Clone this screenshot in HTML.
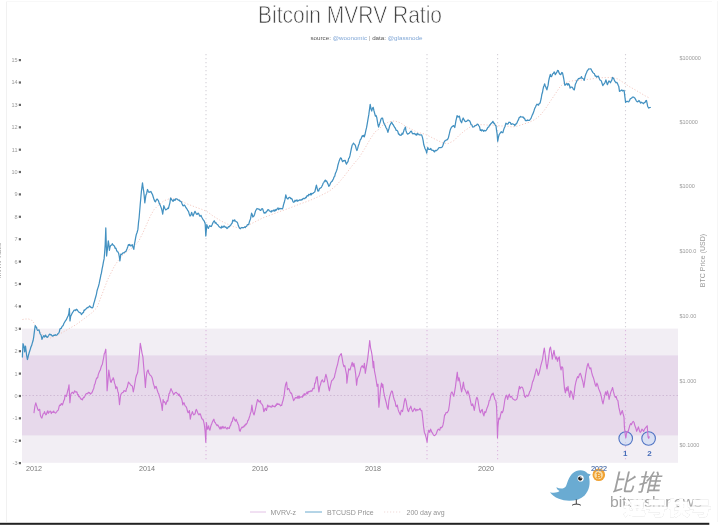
<!DOCTYPE html>
<html><head><meta charset="utf-8"><title>Bitcoin MVRV Ratio</title>
<style>
html,body{margin:0;padding:0;background:#fff;}
body{width:719px;height:526px;overflow:hidden;position:relative;font-family:"Liberation Sans","Noto Sans CJK SC",sans-serif;}
svg{position:absolute;left:0;top:0;display:block;filter:blur(0.35px);}
text{font-family:"Liberation Sans","Noto Sans CJK SC",sans-serif;}
.ax{font-size:5.5px;fill:#9a9a9a;}
.xl{font-size:7.2px;fill:#7a7a7a;}
.lg{font-size:7px;fill:#939393;}
</style></head><body>
<svg width="719" height="526" viewBox="0 0 719 526">
<rect x="0" y="0" width="719" height="526" fill="#fff"/>
<line x1="6.5" y1="1" x2="6.5" y2="522" stroke="#f1f1f1" stroke-width="1"/>
<line x1="717.5" y1="1" x2="717.5" y2="522" stroke="#f6f6f6" stroke-width="1"/>
<line x1="6" y1="1.5" x2="712" y2="1.5" stroke="#f8f8f8" stroke-width="1"/>
<rect x="22" y="328.6" width="656" height="134.2" fill="#f2eef4"/>
<rect x="22" y="355.4" width="656" height="80" fill="#e7d9eb"/>
<line x1="22" y1="395.5" x2="678" y2="395.5" stroke="#c9b3cf" stroke-width="0.8" stroke-dasharray="1.5 2"/>
<line x1="206" y1="54" x2="206" y2="328.5" stroke="#d4d0d8" stroke-width="1.1" stroke-dasharray="1.3 2.7"/>
<line x1="206" y1="330" x2="206" y2="462" stroke="#dcb9df" stroke-width="1.1" stroke-dasharray="1.3 2.7"/>
<line x1="427" y1="54" x2="427" y2="328.5" stroke="#d4d0d8" stroke-width="1.1" stroke-dasharray="1.3 2.7"/>
<line x1="427" y1="330" x2="427" y2="462" stroke="#dcb9df" stroke-width="1.1" stroke-dasharray="1.3 2.7"/>
<line x1="497.6" y1="54" x2="497.6" y2="328.5" stroke="#d4d0d8" stroke-width="1.1" stroke-dasharray="1.3 2.7"/>
<line x1="497.6" y1="330" x2="497.6" y2="462" stroke="#dcb9df" stroke-width="1.1" stroke-dasharray="1.3 2.7"/>
<line x1="625.5" y1="54" x2="625.5" y2="328.5" stroke="#d4d0d8" stroke-width="1.1" stroke-dasharray="1.3 2.7"/>
<line x1="625.5" y1="330" x2="625.5" y2="462" stroke="#dcb9df" stroke-width="1.1" stroke-dasharray="1.3 2.7"/>
<path d="M22.4,319.5 L25.7,319.0 L28.5,319.0 L31.4,319.9 L33.8,322.8 L36.1,326.6 L39.0,330.4 L42.8,335.1 L46.6,337.0 L50.4,338.0 L57.0,335.5 L62.7,332.3 L68.4,329.0 L76.0,324.7 L83.7,319.0 L91.3,313.3 L97.0,307.6 L107.5,280.0 L110.4,274.1 L114.2,266.5 L118.0,260.8 L122.7,255.1 L128.4,250.3 L134.1,246.5 L138.9,240.8 L142.7,233.2 L146.5,224.7 L150.3,216.1 L154.1,209.5 L157.9,205.7 L163.8,200.9 L171.4,198.0 L179.0,199.9 L186.6,203.7 L194.2,206.6 L201.8,209.4 L206.6,211.3 L213.2,216.1 L220.8,220.8 L226.5,223.7 L233.2,226.5 L239.8,228.4 L247.5,225.6 L255.1,221.8 L262.7,218.0 L270.3,215.1 L279.9,211.5 L289.8,208.0 L299.6,204.1 L309.5,200.6 L319.4,196.2 L329.3,191.2 L336.7,185.1 L344.1,176.4 L351.5,166.5 L358.9,157.9 L365.1,148.0 L370.0,139.4 L374.9,132.0 L378.6,129.4 L383.3,124.7 L389.0,121.8 L394.7,120.9 L400.4,122.8 L406.1,126.6 L411.8,129.4 L417.5,132.3 L425.1,134.2 L430.8,137.0 L436.5,139.9 L442.2,142.7 L447.9,143.7 L453.7,140.8 L459.4,135.1 L465.1,130.4 L470.8,126.6 L476.5,124.7 L484.1,124.7 L487.6,125.1 L495.2,125.1 L500.9,126.0 L506.6,126.0 L512.3,127.0 L518.0,126.0 L523.7,124.1 L529.4,122.2 L535.1,119.4 L539.9,115.6 L544.6,109.9 L548.4,104.2 L552.2,98.5 L556.0,92.8 L559.8,87.1 L563.7,83.3 L569.4,81.4 L575.1,80.4 L582.7,80.0 L591.4,79.0 L597.1,78.0 L604.7,77.6 L612.3,77.6 L618.0,79.0 L623.7,82.8 L629.4,86.6 L635.1,89.8 L640.8,93.2 L645.6,96.1 L649.4,98.0" fill="none" stroke="#f2c4bc" stroke-width="0.9" stroke-dasharray="1.2 1.8" stroke-linejoin="round"/>
<path d="M22.4,357.0 L23.0,343.7 L24.0,346.5 L24.7,351.9 L25.5,346.2 L26.05,350.51 L26.6,355.1 L27.4,359.5 L27.95,357.58 L28.5,355.1 L29.15,352.78 L29.8,350.7 L30.4,348.83 L31.0,346.79 L31.6,345.6 L32.35,342.93 L33.1,340.5 L33.65,337.46 L34.2,333.2 L35.2,325.6 L35.85,326.78 L36.5,327.5 L37.05,329.52 L37.6,330.4 L38.3,330.24 L39.0,329.8 L39.9,333.2 L40.5,334.37 L41.1,335.1 L42.0,339.3 L42.65,337.8 L43.3,336.1 L43.9,335.63 L44.5,337.0 L45.05,336.52 L45.6,335.1 L46.35,336.53 L47.1,337.4 L47.9,336.72 L48.7,335.5 L49.33,334.34 L49.97,334.07 L50.6,334.8 L51.17,334.74 L51.73,335.41 L52.3,336.1 L52.93,335.93 L53.57,335.41 L54.2,335.1 L54.83,335.39 L55.45,334.75 L56.08,335.27 L56.7,335.1 L57.33,334.68 L57.97,333.47 L58.6,333.2 L59.25,332.04 L59.9,329.0 L60.53,328.67 L61.17,328.39 L61.8,327.1 L62.45,326.01 L63.1,325.6 L63.85,323.49 L64.6,322.2 L65.4,320.86 L66.2,319.9 L66.85,318.44 L67.5,317.1 L68.15,315.8 L68.8,313.8 L69.4,308.5 L70.0,320.9 L70.7,316.1 L71.3,315.09 L71.9,313.8 L72.65,312.35 L73.4,311.4 L73.97,310.41 L74.53,310.18 L75.1,310.0 L75.73,310.5 L76.37,309.22 L77.0,309.5 L77.65,310.58 L78.3,311.4 L79.05,312.28 L79.8,312.7 L80.6,312.83 L81.4,314.6 L82.15,313.68 L82.9,312.7 L83.47,312.65 L84.03,310.06 L84.6,310.4 L85.23,309.59 L85.87,309.07 L86.5,308.5 L87.13,307.55 L87.77,307.77 L88.4,307.0 L89.03,306.83 L89.67,305.93 L90.3,306.6 L90.88,307.31 L91.45,307.47 L92.02,307.87 L92.6,307.6 L93.15,306.49 L93.7,303.8 L94.4,301.6 L95.1,299.0 L95.75,296.72 L96.4,294.3 L97.05,290.74 L97.7,288.6 L98.45,286.34 L99.2,283.4 L99.75,280.51 L100.3,278.05 L100.85,275.05 L101.4,273.2 L102.1,268.87 L102.8,265.6 L103.45,261.96 L104.1,258.9 L104.65,252.46 L105.2,244.6 L105.8,227.9 L106.6,256.0 L107.5,248.4 L108.3,240.8 L108.85,244.43 L109.4,250.3 L110.0,247.15 L110.6,245.6 L111.17,245.1 L111.73,245.13 L112.3,243.7 L113.05,244.97 L113.8,245.6 L114.45,245.96 L115.1,248.4 L115.9,248.16 L116.7,250.7 L117.33,251.73 L117.97,251.96 L118.6,253.2 L119.25,256.38 L119.9,260.8 L120.8,254.1 L121.43,254.34 L122.07,254.11 L122.7,253.2 L123.33,252.95 L123.97,252.67 L124.6,252.2 L125.23,251.71 L125.87,251.61 L126.5,250.0 L127.13,248.54 L127.77,246.69 L128.4,244.6 L129.03,245.23 L129.67,244.4 L130.3,245.6 L130.93,245.97 L131.57,245.46 L132.2,244.6 L133.0,247.29 L133.8,249.4 L134.45,244.01 L135.1,240.8 L135.75,237.15 L136.4,234.2 L137.15,232.26 L137.9,229.4 L138.5,222.7 L139.1,218.0 L140.2,204.7 L140.8,197.95 L141.4,191.4 L142.5,182.9 L143.1,187.71 L143.7,191.4 L144.25,196.38 L144.8,202.8 L145.9,195.2 L146.7,193.24 L147.5,189.5 L148.25,191.25 L149.0,192.4 L149.63,191.98 L150.27,191.91 L150.9,191.4 L151.65,193.21 L152.4,194.3 L153.15,196.72 L153.9,199.0 L154.65,201.08 L155.4,201.9 L156.2,200.09 L157.0,199.0 L157.75,199.72 L158.5,200.9 L159.25,203.37 L160.0,204.7 L160.75,206.61 L161.5,208.5 L162.1,210.87 L162.7,214.2 L163.25,210.47 L163.8,205.7 L164.9,208.5 L165.7,209.81 L166.5,209.5 L167.13,208.92 L167.77,208.07 L168.4,208.5 L169.15,205.58 L169.9,202.8 L170.6,198.0 L171.23,198.88 L171.87,199.77 L172.5,200.9 L173.13,201.34 L173.77,199.67 L174.4,199.9 L175.07,200.37 L175.75,198.75 L176.43,198.79 L177.1,199.0 L177.73,199.65 L178.37,200.22 L179.0,199.9 L179.57,200.85 L180.15,201.04 L180.73,201.4 L181.3,201.8 L182.05,203.78 L182.8,205.6 L183.43,205.78 L184.07,205.24 L184.7,205.2 L185.33,206.45 L185.97,207.71 L186.6,208.5 L187.23,209.43 L187.87,210.79 L188.5,211.3 L189.25,214.01 L190.0,216.1 L190.8,215.31 L191.6,212.3 L192.35,214.38 L193.1,216.1 L193.73,214.26 L194.37,212.7 L195.0,211.3 L195.75,212.74 L196.5,214.2 L197.13,214.37 L197.77,213.35 L198.4,213.2 L199.03,214.38 L199.67,216.14 L200.3,216.1 L200.93,215.32 L201.57,216.75 L202.2,218.0 L202.83,219.07 L203.47,220.09 L204.1,220.8 L205.2,223.7 L205.8,236.0 L206.8,224.6 L207.55,226.63 L208.3,228.4 L209.05,226.76 L209.8,225.6 L210.55,226.41 L211.3,226.5 L212.1,224.76 L212.9,222.7 L213.65,221.46 L214.4,220.8 L215.15,223.09 L215.9,222.7 L216.65,223.85 L217.4,224.6 L218.03,225.06 L218.67,226.08 L219.3,226.9 L219.93,227.18 L220.57,227.67 L221.2,228.1 L221.77,226.2 L222.35,227.03 L222.93,227.45 L223.5,226.5 L224.07,225.96 L224.65,226.66 L225.23,227.32 L225.8,226.9 L226.43,227.77 L227.07,228.52 L227.7,228.1 L228.33,226.63 L228.97,226.84 L229.6,226.5 L230.23,225.38 L230.87,224.98 L231.5,223.7 L232.13,223.23 L232.77,220.09 L233.4,220.5 L234.03,221.2 L234.67,219.9 L235.3,220.8 L236.05,221.68 L236.8,221.8 L237.55,222.88 L238.3,225.6 L239.05,227.1 L239.8,228.4 L240.43,228.76 L241.07,227.72 L241.7,227.5 L242.37,227.61 L243.03,227.94 L243.7,227.5 L244.25,227.33 L244.8,226.95 L245.35,227.59 L245.9,226.5 L246.53,226.44 L247.17,225.07 L247.8,224.6 L248.6,224.71 L249.4,221.8 L250.5,218.9 L251.6,213.2 L252.2,214.47 L252.8,217.0 L253.9,216.1 L254.65,214.2 L255.4,211.3 L256.2,209.75 L257.0,208.5 L257.63,208.74 L258.27,209.22 L258.9,209.0 L259.53,209.59 L260.17,210.28 L260.8,210.4 L261.43,209.09 L262.07,208.64 L262.7,209.0 L263.45,211.44 L264.2,213.2 L264.95,212.52 L265.7,212.9 L266.45,211.39 L267.2,211.0 L267.95,209.59 L268.7,209.8 L269.33,211.0 L269.97,211.21 L270.6,211.3 L271.18,212.04 L271.75,210.63 L272.32,211.08 L272.9,211.0 L273.46,210.12 L274.02,210.92 L274.59,211.12 L275.15,209.51 L275.71,210.61 L276.27,210.04 L276.84,209.15 L277.4,209.0 L278.02,207.83 L278.63,209.61 L279.25,208.7 L279.87,208.34 L280.48,208.8 L281.1,208.5 L281.67,208.56 L282.23,208.99 L282.8,208.0 L283.55,204.59 L284.3,202.3 L285.05,199.22 L285.8,194.9 L286.55,197.57 L287.3,198.6 L287.97,199.0 L288.63,197.7 L289.3,197.4 L289.9,197.29 L290.5,198.56 L291.1,198.36 L291.7,198.6 L292.37,199.9 L293.03,201.85 L293.7,202.3 L294.37,201.76 L295.03,200.24 L295.7,201.1 L296.3,200.76 L296.9,199.83 L297.5,201.18 L298.1,200.6 L298.73,200.6 L299.35,199.91 L299.98,200.07 L300.6,199.9 L301.23,200.03 L301.85,199.29 L302.48,199.65 L303.1,198.6 L303.73,198.27 L304.35,198.57 L304.98,198.52 L305.6,197.4 L306.23,197.72 L306.87,195.9 L307.5,195.7 L308.12,195.98 L308.75,194.27 L309.38,194.5 L310.0,194.9 L310.62,193.52 L311.25,194.89 L311.88,193.32 L312.5,193.7 L313.1,193.19 L313.7,192.59 L314.3,192.18 L314.9,191.7 L315.65,188.07 L316.4,185.1 L317.15,188.28 L317.9,191.2 L318.65,190.99 L319.4,188.8 L320.02,188.2 L320.65,187.84 L321.27,187.48 L321.9,186.3 L322.53,184.96 L323.17,183.14 L323.8,182.6 L324.55,181.04 L325.3,180.1 L325.97,181.52 L326.63,180.86 L327.3,182.6 L328.05,184.12 L328.8,186.3 L329.43,185.62 L330.07,184.27 L330.7,182.6 L331.37,181.77 L332.03,181.38 L332.7,180.1 L333.37,178.96 L334.03,176.98 L334.7,176.4 L335.37,173.47 L336.03,171.92 L336.7,170.2 L337.33,168.24 L337.97,164.96 L338.6,162.8 L339.27,160.67 L339.93,159.11 L340.6,157.9 L341.27,158.29 L341.93,160.3 L342.6,161.6 L343.27,160.55 L343.93,161.0 L344.6,160.4 L345.23,160.34 L345.87,163.05 L346.5,164.1 L347.25,162.5 L348.0,161.6 L348.67,158.47 L349.33,157.87 L350.0,155.4 L350.75,151.55 L351.5,148.0 L352.17,145.14 L352.83,144.25 L353.5,143.1 L354.13,144.09 L354.77,144.51 L355.4,145.6 L356.15,148.48 L356.9,150.5 L357.65,148.46 L358.4,145.6 L359.07,143.9 L359.73,141.65 L360.4,139.4 L361.03,138.9 L361.67,137.3 L362.3,135.7 L362.97,136.35 L363.63,135.35 L364.3,136.9 L365.05,134.29 L365.8,130.7 L366.55,127.72 L367.3,123.3 L368.05,118.84 L368.8,114.7 L369.5,109.24 L370.2,104.3 L370.95,108.72 L371.7,111.0 L372.45,108.18 L373.2,107.3 L373.95,110.66 L374.7,113.5 L375.37,116.07 L376.03,115.46 L376.7,117.2 L377.33,120.85 L377.97,124.77 L378.6,127.0 L379.2,124.93 L379.8,123.31 L380.4,121.5 L381.0,119.0 L381.75,118.0 L382.5,118.0 L383.1,120.35 L383.7,122.8 L384.45,124.36 L385.2,125.6 L385.95,127.5 L386.7,128.5 L387.3,130.38 L387.9,132.3 L388.45,130.29 L389.0,128.5 L389.6,126.04 L390.2,124.7 L390.95,123.25 L391.7,122.2 L392.45,123.94 L393.2,124.7 L393.95,126.16 L394.7,127.5 L395.45,128.48 L396.2,130.4 L397.0,130.39 L397.8,131.3 L398.55,134.22 L399.3,134.2 L400.05,135.28 L400.8,135.1 L401.43,135.15 L402.07,133.07 L402.7,134.2 L403.45,132.14 L404.2,129.4 L404.8,128.51 L405.4,127.1 L405.95,130.63 L406.5,132.3 L407.05,133.49 L407.6,134.2 L408.4,133.66 L409.2,133.2 L409.95,132.54 L410.7,131.3 L411.45,131.18 L412.2,133.2 L412.83,133.9 L413.47,133.65 L414.1,133.6 L414.73,133.41 L415.37,134.73 L416.0,134.2 L416.63,135.2 L417.27,133.43 L417.9,134.2 L418.53,134.03 L419.17,134.76 L419.8,134.8 L420.43,135.0 L421.07,134.78 L421.7,135.1 L422.45,137.41 L423.2,140.8 L423.8,144.82 L424.4,146.5 L424.95,148.52 L425.5,149.4 L426.1,150.64 L426.7,153.2 L427.25,149.61 L427.8,147.5 L428.55,149.39 L429.3,149.4 L430.05,149.44 L430.8,148.4 L431.43,150.03 L432.07,150.11 L432.7,150.3 L433.33,150.35 L433.97,151.51 L434.6,151.9 L435.23,150.31 L435.87,150.69 L436.5,150.7 L437.13,149.9 L437.77,149.45 L438.4,148.4 L439.03,147.7 L439.67,147.73 L440.3,147.5 L440.93,147.55 L441.57,147.31 L442.2,146.9 L443.0,145.15 L443.8,142.7 L444.9,140.8 L445.53,140.61 L446.17,140.02 L446.8,139.9 L447.55,139.38 L448.3,138.0 L448.9,135.63 L449.5,133.2 L450.05,130.65 L450.6,129.0 L451.35,127.46 L452.1,126.6 L452.9,126.1 L453.7,125.6 L454.25,126.49 L454.8,127.5 L455.9,120.9 L456.5,118.39 L457.1,115.7 L458.2,117.1 L458.8,116.6 L459.4,116.1 L459.95,118.6 L460.5,120.9 L461.05,121.78 L461.6,122.8 L462.4,119.71 L463.2,118.0 L463.95,119.68 L464.7,120.9 L465.33,121.65 L465.97,121.47 L466.6,121.4 L467.35,120.55 L468.1,119.9 L468.85,120.65 L469.6,120.9 L470.35,122.27 L471.1,124.7 L471.9,124.86 L472.7,127.1 L473.45,126.88 L474.2,126.6 L474.95,125.59 L475.7,125.6 L476.45,125.26 L477.2,124.1 L477.95,124.25 L478.7,125.6 L479.5,126.55 L480.3,130.4 L480.93,129.63 L481.57,130.87 L482.2,129.8 L482.95,130.34 L483.7,131.3 L484.37,130.38 L485.03,130.55 L485.7,130.8 L486.33,130.12 L486.97,129.14 L487.6,127.9 L488.23,127.06 L488.87,126.85 L489.5,125.1 L490.13,124.86 L490.77,123.82 L491.4,123.2 L492.15,122.58 L492.9,121.3 L493.65,123.16 L494.4,123.2 L495.2,125.13 L496.0,126.0 L496.55,130.41 L497.1,133.7 L497.7,141.3 L498.6,136.5 L499.2,134.5 L499.8,133.7 L500.55,132.62 L501.3,131.7 L502.05,132.6 L502.8,132.7 L503.55,130.14 L504.3,127.9 L505.1,126.14 L505.9,123.2 L506.65,123.98 L507.4,124.1 L508.15,123.65 L508.9,122.2 L509.65,122.28 L510.4,122.6 L511.03,124.4 L511.67,124.08 L512.3,123.8 L512.93,123.91 L513.57,124.32 L514.2,124.5 L514.83,125.79 L515.47,124.04 L516.1,124.1 L516.85,123.18 L517.6,121.3 L518.4,119.94 L519.2,117.5 L519.83,117.3 L520.47,116.46 L521.1,116.9 L521.73,117.0 L522.37,117.1 L523.0,116.9 L523.75,118.12 L524.5,118.1 L525.05,119.83 L525.6,120.7 L526.23,120.48 L526.87,120.7 L527.5,120.0 L528.13,120.4 L528.77,120.31 L529.4,120.3 L530.2,119.38 L531.0,118.4 L531.75,116.37 L532.5,114.6 L533.25,113.08 L534.0,110.8 L534.75,108.32 L535.5,107.0 L536.25,105.25 L537.0,104.2 L537.8,104.65 L538.6,105.1 L539.35,103.34 L540.1,103.2 L540.65,100.61 L541.2,98.5 L541.8,94.55 L542.4,92.8 L542.95,89.57 L543.5,87.1 L544.05,85.76 L544.6,83.8 L545.2,85.76 L545.8,87.1 L546.35,88.47 L546.9,89.9 L547.5,87.42 L548.1,85.2 L548.65,81.07 L549.2,78.5 L550.3,74.3 L550.9,76.46 L551.5,76.6 L552.05,75.48 L552.6,73.8 L553.35,73.45 L554.1,71.9 L554.7,72.81 L555.3,74.7 L556.05,73.45 L556.8,72.4 L557.55,70.45 L558.3,70.5 L558.9,72.58 L559.5,73.8 L560.25,74.56 L561.0,74.3 L561.75,72.51 L562.5,72.8 L563.1,75.62 L563.7,78.5 L564.8,85.2 L565.55,84.85 L566.3,83.8 L567.05,83.53 L567.8,85.2 L568.4,83.7 L569.0,84.2 L569.55,85.51 L570.1,88.0 L570.85,87.2 L571.6,87.1 L572.4,87.28 L573.2,89.0 L574.3,89.9 L574.85,87.07 L575.4,84.2 L576.2,82.44 L577.0,80.4 L577.75,79.8 L578.5,78.5 L579.25,78.69 L580.0,78.1 L580.75,78.18 L581.5,76.6 L582.1,78.19 L582.7,78.5 L583.45,78.73 L584.2,80.4 L585.3,75.7 L585.9,73.97 L586.5,72.8 L587.25,70.82 L588.0,70.0 L588.75,68.91 L589.5,69.0 L590.25,68.91 L591.0,68.9 L591.6,70.15 L592.2,71.4 L592.95,72.62 L593.7,73.3 L594.45,73.83 L595.2,76.1 L595.95,75.92 L596.7,77.1 L597.5,76.59 L598.3,76.1 L599.05,77.89 L599.8,79.9 L600.55,80.23 L601.3,80.9 L602.05,83.22 L602.8,85.6 L603.55,84.23 L604.3,83.7 L605.1,82.19 L605.9,79.9 L606.65,82.49 L607.4,84.7 L608.15,82.75 L608.9,80.9 L609.65,81.48 L610.4,82.8 L611.15,81.25 L611.9,79.9 L612.5,77.45 L613.1,78.0 L613.85,78.91 L614.6,80.9 L615.35,81.87 L616.1,82.8 L616.85,82.42 L617.6,83.7 L618.2,85.26 L618.8,86.6 L619.5,91.3 L620.3,90.93 L621.1,90.4 L621.85,89.94 L622.6,91.0 L623.35,90.56 L624.1,90.4 L624.9,97.0 L625.6,102.4 L626.35,101.63 L627.1,101.2 L627.9,101.75 L628.7,101.8 L629.45,100.69 L630.2,98.9 L630.95,98.43 L631.7,98.0 L632.45,97.03 L633.2,97.0 L634.0,97.42 L634.8,98.0 L635.55,99.36 L636.3,100.8 L637.05,101.7 L637.8,101.8 L638.35,101.31 L638.9,100.5 L639.7,101.4 L640.5,103.1 L641.25,102.16 L642.0,102.7 L642.75,102.99 L643.5,103.7 L644.25,102.64 L645.0,102.4 L645.75,100.84 L646.5,100.5 L647.1,103.44 L647.7,106.5 L648.8,108.1 L649.55,107.53 L650.3,107.5" fill="none" stroke="#4391c1" stroke-width="1.25" stroke-linejoin="round" stroke-linecap="round"/>
<circle cx="625.7" cy="438.5" r="6.8" fill="#c5d6f2" fill-opacity="0.55" stroke="#4f73c4" stroke-width="1.1"/>
<text x="625.3" y="455.6" text-anchor="middle" font-size="8" font-weight="bold" fill="#446bb8">1</text>
<circle cx="648.6" cy="438.5" r="6.8" fill="#c5d6f2" fill-opacity="0.55" stroke="#4f73c4" stroke-width="1.1"/>
<text x="649.6" y="455.6" text-anchor="middle" font-size="8" font-weight="bold" fill="#446bb8">2</text>
<path d="M34.0,412.7 L34.9,406.1 L35.8,402.8 L36.45,405.08 L37.1,407.2 L37.75,409.27 L38.4,410.5 L39.05,409.62 L39.7,409.4 L40.35,415.06 L41.0,417.0 L41.9,418.1 L42.55,415.69 L43.2,413.8 L43.85,413.58 L44.5,411.6 L45.15,413.35 L45.8,414.9 L46.45,414.34 L47.1,412.0 L47.75,410.75 L48.4,413.3 L49.0,411.97 L49.6,412.03 L50.2,411.1 L50.77,411.88 L51.33,413.57 L51.9,412.0 L52.5,411.96 L53.1,412.42 L53.7,411.1 L54.35,412.51 L55.0,412.7 L55.6,413.09 L56.2,412.37 L56.8,411.6 L57.37,410.74 L57.93,410.54 L58.5,409.4 L59.15,406.34 L59.8,405.0 L60.45,405.4 L61.1,403.9 L61.75,403.64 L62.4,405.0 L63.1,403.0 L63.8,400.6 L64.45,399.6 L65.1,395.2 L65.75,395.57 L66.4,396.3 L67.05,393.57 L67.7,390.8 L68.35,388.78 L69.0,384.9 L69.9,402.8 L70.8,394.1 L71.45,393.22 L72.1,392.3 L72.75,392.3 L73.4,393.6 L74.05,392.41 L74.7,390.8 L75.27,391.63 L75.83,392.1 L76.4,391.9 L77.0,392.15 L77.6,395.04 L78.2,394.5 L78.77,396.77 L79.33,396.38 L79.9,397.3 L80.6,398.61 L81.3,399.5 L81.87,398.79 L82.43,399.9 L83.0,398.4 L83.6,397.14 L84.2,397.54 L84.8,396.3 L85.37,395.02 L85.93,393.94 L86.5,393.6 L87.1,393.74 L87.7,393.8 L88.3,392.3 L88.87,392.73 L89.43,392.62 L90.0,393.6 L90.6,394.05 L91.2,393.16 L91.8,393.0 L92.45,391.6 L93.1,389.7 L93.75,388.52 L94.4,384.9 L95.05,383.81 L95.7,380.9 L96.35,378.88 L97.0,377.7 L97.65,377.88 L98.3,374.4 L98.95,372.75 L99.6,371.1 L100.25,370.08 L100.9,367.8 L101.6,365.63 L102.3,364.5 L102.95,361.21 L103.6,358.0 L104.25,353.85 L104.9,352.5 L105.8,349.2 L106.4,363.4 L107.1,390.8 L107.9,382.0 L108.8,370.0 L109.7,376.6 L110.6,382.0 L111.25,382.33 L111.9,379.8 L112.55,379.84 L113.2,377.7 L113.85,379.43 L114.5,383.1 L115.15,384.65 L115.8,388.6 L116.45,386.75 L117.1,387.5 L117.75,391.19 L118.4,393.0 L118.95,398.43 L119.5,404.6 L120.05,399.85 L120.6,395.2 L121.25,393.85 L121.9,393.0 L122.6,392.55 L123.3,392.3 L123.95,390.68 L124.6,390.8 L125.25,391.12 L125.9,391.4 L126.55,388.3 L127.2,387.5 L127.85,384.69 L128.5,382.0 L129.15,383.05 L129.8,383.6 L130.45,384.82 L131.1,385.3 L131.75,385.66 L132.4,386.4 L133.3,391.9 L134.2,387.5 L135.1,382.0 L135.75,378.03 L136.4,375.5 L137.05,373.98 L137.7,372.2 L138.6,363.4 L139.4,354.7 L140.3,343.3 L141.2,348.1 L142.1,353.6 L142.9,356.9 L143.8,367.8 L144.7,377.7 L145.4,387.5 L146.0,378.8 L146.9,372.2 L147.55,370.71 L148.2,370.0 L148.85,373.2 L149.5,373.9 L150.15,375.31 L150.8,375.5 L151.45,376.51 L152.1,377.7 L152.8,380.57 L153.5,384.2 L154.15,385.84 L154.8,388.6 L155.45,386.75 L156.1,386.4 L156.75,388.32 L157.4,390.8 L158.1,392.69 L158.8,394.1 L159.45,396.66 L160.1,398.4 L160.75,401.61 L161.4,403.9 L162.3,410.5 L163.1,399.5 L163.75,402.28 L164.4,401.7 L165.1,402.59 L165.8,404.6 L166.45,402.61 L167.1,400.6 L167.75,401.19 L168.4,397.3 L169.05,393.66 L169.7,393.0 L170.35,390.38 L171.0,388.6 L171.65,390.14 L172.3,391.4 L172.95,393.07 L173.6,394.5 L174.25,394.08 L174.9,393.0 L175.6,392.46 L176.3,392.3 L176.87,393.19 L177.43,393.54 L178.0,394.1 L178.6,395.45 L179.2,394.05 L179.8,396.3 L180.37,396.29 L180.93,397.7 L181.5,398.4 L182.15,400.87 L182.8,405.0 L183.45,403.06 L184.1,402.8 L184.75,404.95 L185.4,406.1 L186.1,406.68 L186.8,408.3 L187.45,411.01 L188.1,412.7 L188.75,412.2 L189.4,410.5 L190.3,419.2 L191.1,414.9 L191.75,413.5 L192.4,411.6 L193.1,413.66 L193.8,414.9 L194.45,414.27 L195.1,413.8 L195.75,410.47 L196.4,409.4 L197.05,411.03 L197.7,412.7 L198.35,414.16 L199.0,414.9 L199.65,413.93 L200.3,413.8 L200.95,415.87 L201.6,418.1 L202.25,419.25 L202.9,419.2 L203.6,421.25 L204.3,424.7 L205.1,431.3 L205.8,442.2 L206.4,422.5 L207.3,429.1 L207.95,427.96 L208.6,425.8 L209.25,429.49 L209.9,430.2 L210.6,427.01 L211.3,424.7 L211.95,423.17 L212.6,421.4 L213.25,420.18 L213.9,419.2 L214.55,422.08 L215.2,422.5 L215.85,423.85 L216.5,424.7 L217.1,425.78 L217.7,424.88 L218.3,425.8 L218.87,426.89 L219.43,427.99 L220.0,429.1 L220.6,426.95 L221.2,428.79 L221.8,426.9 L222.37,427.99 L222.93,426.23 L223.5,428.0 L224.1,428.23 L224.7,427.16 L225.3,426.9 L225.87,427.99 L226.43,428.66 L227.0,429.1 L227.6,427.53 L228.2,428.2 L228.8,428.0 L229.37,428.46 L229.93,426.07 L230.5,425.8 L231.1,423.52 L231.7,421.78 L232.3,421.4 L232.95,418.22 L233.6,417.0 L234.25,418.92 L234.9,420.3 L235.55,421.1 L236.2,419.2 L236.85,421.19 L237.5,422.5 L238.15,424.35 L238.8,425.8 L239.45,430.34 L240.1,431.3 L240.75,429.23 L241.4,428.0 L242.0,427.09 L242.6,427.69 L243.2,426.9 L243.77,426.97 L244.33,425.35 L244.9,425.8 L245.5,424.13 L246.1,424.57 L246.7,423.6 L247.27,422.7 L247.83,420.35 L248.4,420.3 L249.1,417.94 L249.8,415.9 L250.45,413.32 L251.1,411.6 L251.9,405.0 L252.8,411.6 L253.45,413.62 L254.1,414.9 L254.75,412.06 L255.4,409.4 L256.1,406.03 L256.8,402.8 L257.6,399.5 L258.25,400.32 L258.9,401.7 L259.6,401.99 L260.3,400.6 L260.95,403.36 L261.6,403.9 L262.25,404.71 L262.9,406.1 L263.8,411.6 L264.45,410.63 L265.1,408.3 L265.75,408.79 L266.4,410.5 L267.05,407.81 L267.7,405.0 L268.27,405.97 L268.83,406.94 L269.4,406.1 L270.0,406.16 L270.6,406.77 L271.2,407.2 L271.77,406.99 L272.33,405.27 L272.9,406.1 L273.5,406.35 L274.1,406.03 L274.7,406.8 L275.27,406.63 L275.83,404.96 L276.4,405.4 L277.0,403.32 L277.6,404.43 L278.2,403.9 L278.77,404.48 L279.33,404.19 L279.9,405.0 L280.5,405.84 L281.1,405.05 L281.7,405.4 L282.35,402.52 L283.0,400.6 L283.65,397.73 L284.3,394.1 L285.0,387.9 L285.7,384.2 L286.6,382.0 L287.4,389.7 L288.1,388.61 L288.8,388.6 L289.45,390.23 L290.1,391.9 L290.75,393.13 L291.4,393.0 L292.05,395.02 L292.7,397.3 L293.6,400.6 L294.25,399.75 L294.9,398.4 L295.47,397.51 L296.03,397.91 L296.6,397.3 L297.2,398.3 L297.8,396.08 L298.4,396.3 L298.97,398.53 L299.53,396.45 L300.1,397.3 L300.7,397.11 L301.3,397.04 L301.9,396.7 L302.47,397.22 L303.03,395.11 L303.6,395.8 L304.2,393.55 L304.8,395.15 L305.4,394.1 L305.97,394.0 L306.53,393.13 L307.1,391.9 L307.7,393.84 L308.3,391.73 L308.9,391.4 L309.47,391.4 L310.03,391.74 L310.6,390.8 L311.2,390.73 L311.8,391.4 L312.4,389.7 L312.97,388.34 L313.53,388.67 L314.1,388.6 L314.75,383.09 L315.4,383.1 L316.3,377.7 L317.2,376.6 L318.1,385.3 L318.9,391.9 L319.8,386.4 L320.45,384.85 L321.1,382.0 L321.75,380.6 L322.4,379.8 L323.1,381.64 L323.8,382.0 L324.45,381.57 L325.1,377.7 L325.9,374.4 L326.8,377.7 L327.7,382.0 L328.6,387.5 L329.4,390.8 L330.3,386.4 L330.95,383.65 L331.6,380.9 L332.25,380.15 L332.9,379.8 L333.6,378.35 L334.3,377.7 L334.95,374.28 L335.6,372.2 L336.25,368.95 L336.9,366.7 L337.55,364.51 L338.2,361.3 L339.1,356.9 L339.75,355.83 L340.4,354.7 L341.3,353.6 L342.1,358.0 L343.0,363.4 L343.9,366.7 L344.8,365.6 L345.6,370.0 L346.5,374.4 L346.9,383.1 L347.8,375.5 L348.7,368.9 L349.35,369.5 L350.0,370.0 L350.65,367.66 L351.3,365.6 L352.2,362.3 L353.1,366.7 L353.9,363.4 L354.8,367.8 L355.7,374.4 L356.6,385.3 L357.4,378.8 L358.3,376.6 L358.95,375.68 L359.6,373.3 L360.25,370.95 L360.9,367.8 L361.6,366.59 L362.3,365.6 L362.95,367.23 L363.6,367.8 L364.4,363.4 L365.3,373.3 L366.2,367.8 L367.1,362.3 L367.9,356.9 L368.8,349.2 L369.7,340.5 L370.6,348.1 L371.4,351.4 L372.3,356.9 L373.2,367.8 L373.6,361.3 L374.5,371.1 L375.4,375.5 L376.3,380.9 L377.1,386.4 L378.0,384.2 L378.4,398.4 L378.9,407.2 L379.8,397.3 L380.6,388.6 L381.5,383.1 L382.4,387.5 L382.8,384.2 L383.7,391.9 L384.6,396.3 L385.4,399.5 L386.3,402.8 L387.2,407.2 L388.1,409.4 L388.9,400.6 L389.8,396.3 L390.45,394.18 L391.1,392.3 L391.75,390.93 L392.4,391.4 L393.3,396.3 L394.2,399.5 L395.1,401.7 L395.9,406.1 L396.6,406.71 L397.3,405.0 L398.1,409.4 L398.75,411.42 L399.4,412.7 L400.3,414.9 L401.2,410.5 L401.85,410.28 L402.5,411.6 L403.4,407.2 L404.3,401.7 L405.1,398.4 L406.0,400.6 L406.9,406.1 L407.8,410.5 L408.6,411.6 L409.5,408.3 L410.15,408.06 L410.8,406.1 L411.7,409.4 L412.6,411.6 L413.25,410.78 L413.9,409.4 L414.6,408.35 L415.3,409.8 L415.87,410.95 L416.43,409.8 L417.0,409.4 L417.6,410.25 L418.2,409.82 L418.8,409.8 L419.37,409.55 L419.93,408.29 L420.5,409.4 L421.15,410.73 L421.8,410.5 L422.7,418.1 L423.6,426.9 L424.4,432.4 L425.3,434.5 L426.2,437.8 L427.1,442.2 L427.9,433.4 L428.8,430.2 L429.7,432.4 L430.6,429.1 L431.25,430.77 L431.9,432.4 L432.55,433.22 L433.2,434.5 L433.85,435.33 L434.5,435.6 L435.15,435.11 L435.8,434.5 L436.45,433.44 L437.1,431.3 L437.75,429.9 L438.4,429.1 L439.1,429.62 L439.8,430.2 L440.45,427.39 L441.1,428.0 L441.75,427.11 L442.4,426.9 L443.05,424.69 L443.7,421.4 L444.6,414.9 L445.25,414.87 L445.9,412.7 L446.55,412.41 L447.2,412.7 L447.85,411.5 L448.5,410.5 L449.4,405.0 L450.3,397.3 L451.1,393.0 L452.0,391.9 L452.9,394.1 L453.8,396.3 L454.6,391.9 L455.5,386.4 L456.4,378.8 L457.3,372.2 L458.1,380.9 L459.0,377.7 L459.9,382.0 L460.8,387.5 L461.6,391.9 L462.5,387.5 L463.4,382.0 L464.3,388.6 L465.1,389.7 L466.0,391.9 L466.9,394.1 L467.8,390.8 L468.6,393.0 L469.5,396.3 L470.4,400.6 L471.3,405.0 L471.95,405.72 L472.6,403.9 L473.4,406.1 L474.3,410.5 L475.2,405.0 L476.1,399.5 L476.9,397.3 L477.8,399.5 L478.7,405.0 L479.6,410.5 L480.4,412.7 L481.3,410.5 L482.2,409.4 L483.1,413.8 L483.9,415.9 L484.8,411.6 L485.7,412.7 L486.6,409.4 L487.25,407.49 L487.9,406.1 L488.55,403.94 L489.2,400.6 L489.85,400.29 L490.5,397.3 L491.15,395.73 L491.8,394.1 L492.45,394.53 L493.1,393.0 L494.0,396.3 L494.9,399.5 L495.8,400.6 L496.6,407.2 L497.1,422.5 L497.5,437.8 L497.9,426.9 L498.8,418.1 L499.7,419.2 L500.6,414.9 L501.4,411.6 L502.3,412.7 L503.2,410.5 L504.1,405.0 L504.9,399.5 L505.8,396.3 L506.7,395.2 L507.6,399.5 L508.4,396.3 L509.3,394.1 L510.2,397.3 L511.1,396.3 L511.75,396.78 L512.4,398.4 L513.05,399.12 L513.7,399.5 L514.35,399.79 L515.0,400.2 L515.65,399.94 L516.3,399.5 L516.95,398.8 L517.6,396.3 L518.5,390.8 L519.4,386.4 L520.05,388.86 L520.7,387.5 L521.6,387.1 L522.25,387.32 L522.9,388.6 L523.8,391.9 L524.6,396.3 L525.5,397.3 L526.4,395.2 L527.05,395.29 L527.7,396.3 L528.35,395.6 L529.0,394.1 L529.65,391.61 L530.3,390.8 L530.95,389.0 L531.6,386.4 L532.5,382.0 L533.15,380.86 L533.8,378.8 L534.7,375.5 L535.6,372.2 L536.4,368.9 L537.3,371.1 L538.2,375.5 L539.1,373.3 L539.9,370.0 L540.8,365.6 L541.7,362.3 L542.6,359.1 L543.5,352.5 L544.3,348.1 L544.8,351.73 L545.3,355.8 L546.1,363.4 L547.0,368.9 L547.9,363.4 L548.8,356.9 L549.6,349.2 L550.5,347.0 L551.4,352.5 L552.3,359.1 L553.1,354.7 L554.0,350.3 L554.9,355.8 L555.8,359.1 L556.6,356.9 L557.5,361.3 L558.4,358.0 L559.3,356.9 L560.1,365.6 L561.0,370.0 L561.9,366.7 L562.8,367.8 L563.6,378.8 L564.5,388.6 L565.4,393.0 L566.3,387.5 L567.1,390.8 L568.0,386.4 L568.9,393.0 L569.8,397.3 L570.6,390.8 L571.5,391.9 L572.4,395.2 L573.3,399.5 L574.1,394.1 L575.0,386.4 L575.9,382.0 L576.8,378.8 L577.6,376.6 L578.5,377.7 L579.4,374.4 L580.3,373.3 L581.1,375.5 L582.0,378.8 L582.9,382.0 L583.8,387.5 L584.6,382.0 L585.5,375.5 L586.4,370.0 L587.3,365.6 L588.1,363.4 L589.0,366.7 L589.9,368.9 L590.8,367.8 L591.6,372.2 L592.5,375.5 L593.4,377.7 L594.3,380.9 L595.1,384.2 L596.0,386.4 L596.9,383.1 L597.8,385.3 L598.6,388.6 L599.5,390.8 L600.4,393.0 L601.3,396.3 L602.1,400.6 L603.0,403.9 L603.9,399.5 L604.8,395.2 L605.6,391.9 L606.5,395.2 L607.4,390.8 L608.3,394.1 L609.1,399.5 L610.0,395.2 L610.9,391.9 L611.8,389.7 L612.6,387.5 L613.5,391.9 L614.4,395.2 L615.3,397.3 L616.1,396.3 L617.0,399.5 L617.9,400.6 L618.8,407.2 L619.6,410.5 L620.5,414.9 L621.4,412.7 L622.3,410.5 L623.1,413.8 L624.0,417.0 L624.4,426.9 L625.1,433.4 L625.8,437.8 L626.4,433.9 L627.1,431.3 L627.9,432.4 L628.8,429.1 L629.7,425.8 L630.6,423.6 L631.4,424.7 L632.3,422.5 L633.2,421.4 L634.1,422.5 L634.9,425.8 L635.8,428.0 L636.7,431.3 L637.6,429.1 L638.4,426.9 L639.3,430.2 L640.2,432.4 L641.1,431.3 L641.9,429.1 L642.8,430.2 L643.7,431.3 L644.6,429.1 L645.4,428.0 L646.3,426.9 L647.2,425.8 L647.6,431.3 L648.1,436.9 L648.7,438.3 L649.2,436.9" fill="none" stroke="#cb72d3" stroke-width="1.15" stroke-linejoin="round" stroke-linecap="round"/>
<text class="ax" x="17.5" y="62.0" text-anchor="end">15</text><rect x="18.8" y="59.0" width="2.2" height="2.2" fill="#666"/>
<text class="ax" x="17.5" y="84.4" text-anchor="end">14</text><rect x="18.8" y="81.4" width="2.2" height="2.2" fill="#666"/>
<text class="ax" x="17.5" y="106.8" text-anchor="end">13</text><rect x="18.8" y="103.8" width="2.2" height="2.2" fill="#666"/>
<text class="ax" x="17.5" y="129.2" text-anchor="end">12</text><rect x="18.8" y="126.2" width="2.2" height="2.2" fill="#666"/>
<text class="ax" x="17.5" y="151.6" text-anchor="end">11</text><rect x="18.8" y="148.6" width="2.2" height="2.2" fill="#666"/>
<text class="ax" x="17.5" y="173.9" text-anchor="end">10</text><rect x="18.8" y="170.9" width="2.2" height="2.2" fill="#666"/>
<text class="ax" x="17.5" y="196.3" text-anchor="end">9</text><rect x="18.8" y="193.3" width="2.2" height="2.2" fill="#666"/>
<text class="ax" x="17.5" y="218.7" text-anchor="end">8</text><rect x="18.8" y="215.7" width="2.2" height="2.2" fill="#666"/>
<text class="ax" x="17.5" y="241.1" text-anchor="end">7</text><rect x="18.8" y="238.1" width="2.2" height="2.2" fill="#666"/>
<text class="ax" x="17.5" y="263.5" text-anchor="end">6</text><rect x="18.8" y="260.5" width="2.2" height="2.2" fill="#666"/>
<text class="ax" x="17.5" y="285.9" text-anchor="end">5</text><rect x="18.8" y="282.9" width="2.2" height="2.2" fill="#666"/>
<text class="ax" x="17.5" y="308.3" text-anchor="end">4</text><rect x="18.8" y="305.3" width="2.2" height="2.2" fill="#666"/>
<text class="ax" x="17.5" y="330.7" text-anchor="end">3</text><rect x="18.8" y="327.7" width="2.2" height="2.2" fill="#666"/>
<text class="ax" x="17.5" y="353.1" text-anchor="end">2</text><rect x="18.8" y="350.1" width="2.2" height="2.2" fill="#666"/>
<text class="ax" x="17.5" y="375.5" text-anchor="end">1</text><rect x="18.8" y="372.5" width="2.2" height="2.2" fill="#666"/>
<text class="ax" x="17.5" y="397.9" text-anchor="end">0</text><rect x="18.8" y="394.9" width="2.2" height="2.2" fill="#666"/>
<text class="ax" x="17.5" y="420.2" text-anchor="end">-1</text><rect x="18.8" y="417.2" width="2.2" height="2.2" fill="#666"/>
<text class="ax" x="17.5" y="442.6" text-anchor="end">-2</text><rect x="18.8" y="439.6" width="2.2" height="2.2" fill="#666"/>
<text class="ax" x="17.5" y="465.0" text-anchor="end">-3</text><rect x="18.8" y="462.0" width="2.2" height="2.2" fill="#666"/>
<text transform="translate(1.3,260.5) rotate(-90)" text-anchor="middle" font-size="6.5" fill="#999">MVRV Ratio</text>
<text class="ax" x="679.5" y="59.5">$100000</text>
<text class="ax" x="679.5" y="124.0">$10000</text>
<text class="ax" x="679.5" y="188.0">$1000</text>
<text class="ax" x="679.5" y="253.0">$100.0</text>
<text class="ax" x="679.5" y="318.0">$10.00</text>
<text class="ax" x="679.5" y="382.5">$1.000</text>
<text class="ax" x="679.5" y="447.0">$0.1000</text>
<text transform="translate(704.6,260.5) rotate(-90)" text-anchor="middle" font-size="7" fill="#999">BTC Price (USD)</text>
<text class="xl" x="34" y="470.5" text-anchor="middle">2012</text>
<text class="xl" x="147" y="470.5" text-anchor="middle">2014</text>
<text class="xl" x="260" y="470.5" text-anchor="middle">2016</text>
<text class="xl" x="373" y="470.5" text-anchor="middle">2018</text>
<text class="xl" x="486" y="470.5" text-anchor="middle">2020</text>
<text class="xl" x="599" y="470.5" text-anchor="middle">2022</text>
<line x1="250" y1="512" x2="266" y2="512" stroke="#dcb3e0" stroke-width="0.8"/><text class="lg" x="270.5" y="514.5">MVRV-z</text>
<line x1="305" y1="512" x2="322" y2="512" stroke="#5aa0c8" stroke-width="0.9"/><text class="lg" x="327" y="514.5">BTCUSD Price</text>
<line x1="384" y1="512" x2="400.5" y2="512" stroke="#ecd2cf" stroke-width="0.8" stroke-dasharray="1.2 1.8"/><text class="lg" x="406.5" y="514.5">200 day avg</text>
<text x="350" y="23.2" text-anchor="middle" font-size="24.6" fill="#3c3c3c" stroke="#fff" stroke-width="0.75" textLength="184" lengthAdjust="spacingAndGlyphs">Bitcoin MVRV Ratio</text>
<text x="366.5" y="39.8" text-anchor="middle" font-size="5.6" fill="#999" textLength="112" lengthAdjust="spacingAndGlyphs"><tspan fill="#555">source:</tspan> <tspan fill="#7fa6d6">@woonomic</tspan> | <tspan fill="#555">data:</tspan> <tspan fill="#7fa6d6">@glassnode</tspan></text>
<g id="wm">
<g transform="translate(571,485.5) scale(1.06) translate(-571,-485)">
<path d="M551.2,491.3 C555,492.3 558.5,491.6 560.2,490.2 C558.6,489.4 557.6,488.2 557.2,486.6 C560.5,488.6 564.5,488.4 566.2,485.8 C567.6,482.6 568.6,477.2 572.6,473.4 C576.6,469.8 583.4,469.6 586.6,473.6 L589.6,474.6 L587.9,476.6 C589.4,482.6 588.6,489.6 583.6,494.6 C577.6,500.2 566.6,500.6 559.6,497.6 C555.6,495.9 552.6,493.6 551.2,491.3 Z" fill="#6aabd2"/>
<circle cx="580.1" cy="478.3" r="2.9" fill="#fff"/><circle cx="579.7" cy="478.5" r="2" fill="#222"/><circle cx="580.5" cy="477.7" r="0.7" fill="#fff"/>
<path d="M576,498.5 L576,502.3 M572.3,503.4 C573.6,502.2 578.6,502.2 580,503.4" fill="none" stroke="#333" stroke-width="0.9" stroke-linecap="round"/>
</g>
<circle cx="598.8" cy="474.8" r="6.3" fill="#f0a233"/><circle cx="598.6" cy="475" r="4.3" fill="#f9dca6"/>
<text x="598.7" y="477.6" text-anchor="middle" font-size="7" font-weight="bold" fill="#ec9a2b">₿</text>
<text x="599" y="470.5" text-anchor="middle" font-size="7" fill="#5b86cf">2022</text>
<text x="0" y="0" font-size="23.5" fill="#a0a0a0" letter-spacing="2.5" transform="translate(611,490.5) skewX(-13)">比推</text>
<text x="610" y="507.3" font-size="14.5" fill="#a3a3a3" textLength="92" lengthAdjust="spacingAndGlyphs">bitpush.news</text>
<text x="623.5" y="515" font-size="18.5" font-weight="bold" fill="#fff" stroke="#fff" stroke-width="1" textLength="88" lengthAdjust="spacingAndGlyphs" style="filter:drop-shadow(0.5px 0.7px 0.5px rgba(0,0,0,0.22))">逗号快号</text>
</g>
<rect x="0" y="522.8" width="709.3" height="2" fill="#222"/>
</svg></body></html>
